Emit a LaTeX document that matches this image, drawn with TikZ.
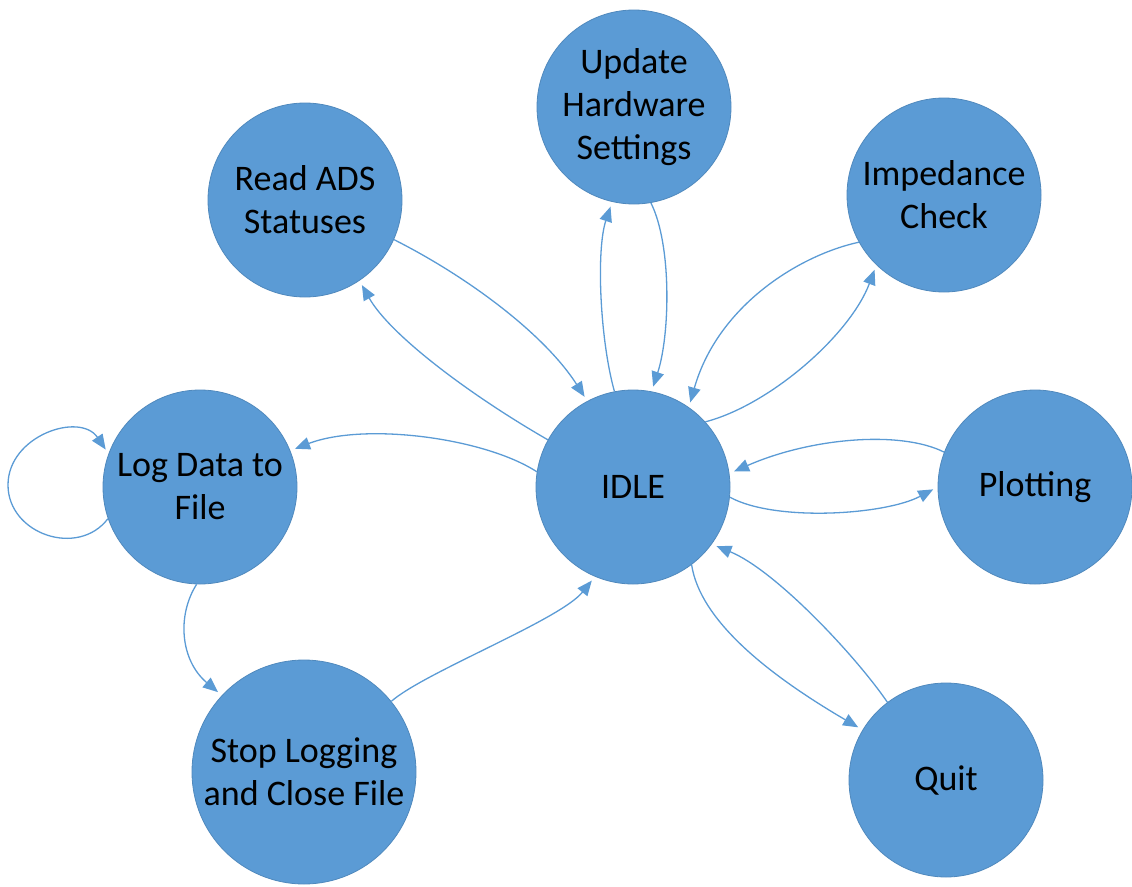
\documentclass[tikz,border=0pt]{standalone}
\usepackage{fontspec}
\setmainfont{Carlito}
\usetikzlibrary{arrows.meta}
\definecolor{stblue}{HTML}{5B9BD5}
\definecolor{stedge}{HTML}{5089BD}
\begin{document}
\begin{tikzpicture}[x=1pt,y=-1pt,
  state/.style={circle, fill=stblue, draw=stedge, line width=0.8pt, minimum size=194pt, inner sep=0pt, align=center, font=\fontsize{36}{43}\selectfont, text=black},
  bigstate/.style={state, minimum size=224pt},
  conn/.style={draw=stblue, line width=1.3pt, -{Triangle[length=15pt,width=12.5pt]}, shorten >=5pt}]
\useasboundingbox (0,0) rectangle (1132,886);
\node[state] (idle) at (633,487) {IDLE};
\node[state] (update) at (634,107) {Update\\Hardware\\Settings};
\node[state] (read) at (305,200) {Read ADS\\Statuses};
\node[state] (imp) at (944,195) {Impedance\\Check};
\node[state] (plot) at (1035,487) {Plotting};
\node[state] (log) at (200,487) {Log Data to\\File};
\node[bigstate] (stop) at (304,772) {Stop Logging\\and Close File};
\node[state] (quit) at (946,780) {Quit};
\coordinate (loopL) at (8,485);

\draw[conn] (read.-24.5) .. controls (470,278) and (545,335) .. (idle.118.5);
\draw[conn] (idle.151) .. controls (470,395) and (390,335) .. (read.-56);
\draw[conn] (idle.101.4) .. controls (600,340) and (596,250) .. (update.-103.5);
\draw[conn] (update.-80.5) .. controls (672,245) and (670,335) .. (idle.79);
\draw[conn] (imp.-151) .. controls (800,255) and (718,305) .. (idle.55.9);
\draw[conn] (idle.42) .. controls (770,405) and (850,335) .. (imp.-134);
\draw[conn] (plot.159) .. controls (900,430) and (810,438) .. (idle.8);
\draw[conn] (idle.-6) .. controls (775,522) and (885,515) .. (plot.180);
\draw[conn] (idle.-53.8) .. controls (700,620) and (767,674) .. (quit.149);
\draw[conn] (quit.127.5) .. controls (855,655) and (775,570) .. (idle.-36.6);
\draw[conn] (log.-92) .. controls (177,615) and (180,660) .. (stop.137.8);
\draw[conn] (stop.39.3) .. controls (425,672) and (560,620) .. (idle.-113);
\draw[conn] (idle.171) .. controls (485,438) and (365,422) .. (log.22.7);
\draw[conn] (log.-161.7) .. controls (78,558) and (8,534) .. (loopL) .. controls (8,435.5) and (80,411.5) .. (log.160);
\end{tikzpicture}
\end{document}
